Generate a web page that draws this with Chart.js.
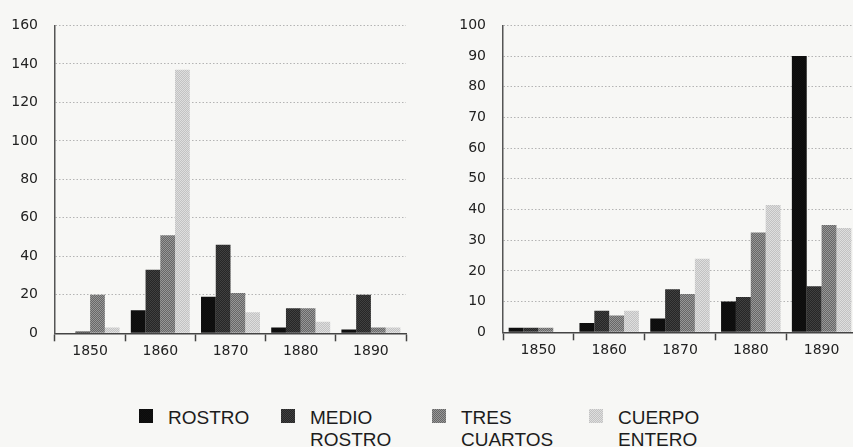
<!DOCTYPE html>
<html>
<head>
<meta charset="utf-8">
<script src="https://cdn.jsdelivr.net/npm/chart.js@4"></script>
<style>
  html, body { margin: 0; padding: 0; overflow: hidden; background: #f7f7f5; }
  body { width: 853px; height: 447px; position: relative; }
  .wrap { position: absolute; top: 0; }
  #wrapA { left: 0; width: 420px; height: 372px; }
  #wrapB { left: 420px; width: 460px; height: 372px; }
  #legend {
    position: absolute; left: 0; top: 407px; width: 853px; height: 40px;
    font-family: "Liberation Sans", Arial, sans-serif; font-size: 19px;
    line-height: 21.5px; color: #1c1c1c;
  }
  .item { position: absolute; top: 0; display: flex; align-items: flex-start; }
  .swatch { width: 14px; height: 14px; margin-top: 2px; margin-right: 15px; image-rendering: pixelated; }
</style>
</head>
<body>
<div class="wrap" id="wrapA"><canvas id="chartA" width="420" height="372"></canvas></div>
<div class="wrap" id="wrapB"><canvas id="chartB" width="460" height="372"></canvas></div>
<div id="legend"></div>
<script>
// Decades on the horizontal axis
const decades = ['1850', '1860', '1870', '1880', '1890'];

// Legend names (one array entry per printed line)
const seriesNames = [['ROSTRO'], ['MEDIO', 'ROSTRO'], ['TRES', 'CUARTOS'], ['CUERPO', 'ENTERO']];

// First chart: counts per framing type
const rostroA = [0, 12, 19, 3, 2];
const medioA  = [1, 33, 46, 13, 20];
const tresA   = [20, 51, 21, 13, 3];
const cuerpoA = [3, 137, 11, 6, 3];

// Second chart
const rostroB = [1.5, 3, 4.5, 10, 90];
const medioB  = [1.5, 7, 14, 11.5, 15];
const tresB   = [1.5, 5.5, 12.5, 32.5, 35];
const cuerpoB = [0, 7, 24, 41.5, 34];

// Axis ranges and tick steps
const yMaxA = 160, yStepA = 20;
const yMaxB = 100, yStepB = 10;

// Halftone-like fills: 2x2 tiles of two close greys
function makeTile(c1, c2) {
  const t = document.createElement('canvas');
  t.width = 2; t.height = 2;
  const g = t.getContext('2d');
  g.fillStyle = c1; g.fillRect(0, 0, 2, 2);
  g.fillStyle = c2; g.fillRect(0, 0, 1, 1); g.fillRect(1, 1, 1, 1);
  return t;
}
const tiles = [
  makeTile('#0c0c0c', '#111111'),
  makeTile('#262626', '#404040'),
  makeTile('#676767', '#979797'),
  makeTile('#c2c2c2', '#dedede')
];
const patCtx = document.createElement('canvas').getContext('2d');
const fills = tiles.map(t => patCtx.createPattern(t, 'repeat'));

Chart.defaults.font.family = '"DejaVu Sans", sans-serif';
Chart.defaults.font.size = 14;
Chart.defaults.color = '#222';

function datasets(values) {
  return values.map((v, i) => ({
    label: seriesNames[i].join(' '),
    data: v,
    backgroundColor: fills[i],
    borderWidth: 0,
    categoryPercentage: 0.84,
    barPercentage: 1.0
  }));
}

function buildChart(id, values, yMax, yStep, frame) {
  return new Chart(document.getElementById(id), {
    type: 'bar',
    data: { labels: decades, datasets: datasets(values) },
    options: {
      responsive: false,
      animation: false,
      layout: { padding: { top: frame.top, right: frame.right, bottom: 0, left: 0 } },
      plugins: { legend: { display: false }, tooltip: { enabled: false } },
      scales: {
        x: {
          grid: {
            display: true, drawOnChartArea: false, drawTicks: true,
            tickLength: 8, tickColor: '#444', tickWidth: 1.5, offset: true
          },
          border: { display: true, color: '#444', width: 1.5 },
          ticks: { padding: 2, color: '#222' },
          afterFit(scale) { scale.height = frame.xHeight; }
        },
        y: {
          min: 0, max: yMax,
          grid: { color: '#b4b4b4', lineWidth: 1, drawTicks: false },
          border: { display: true, color: '#555', width: 1.5, dash: [1.5, 2] },
          ticks: { stepSize: yStep, padding: 17, color: '#222' },
          afterFit(scale) { scale.width = frame.yWidth; }
        }
      }
    }
  });
}

buildChart('chartA', [rostroA, medioA, tresA, cuerpoA], yMaxA, yStepA,
  { top: 20, right: 14, xHeight: 38.7, yWidth: 55 });
buildChart('chartB', [rostroB, medioB, tresB, cuerpoB], yMaxB, yStepB,
  { top: 19, right: 23, xHeight: 39.7, yWidth: 83 });

// Legend built from the same series names and fills, one column per entry
const legendColumns = [139, 281, 432, 589];
const legend = document.getElementById('legend');
seriesNames.forEach((lines, i) => {
  const item = document.createElement('div');
  item.className = 'item';
  item.style.left = legendColumns[i] + 'px';
  const sw = document.createElement('div');
  sw.className = 'swatch';
  sw.style.backgroundImage = 'url(' + tiles[i].toDataURL() + ')';
  sw.style.backgroundSize = '2px 2px';
  const txt = document.createElement('div');
  txt.innerHTML = lines.join('<br>');
  item.appendChild(sw);
  item.appendChild(txt);
  legend.appendChild(item);
});
</script>
</body>
</html>
